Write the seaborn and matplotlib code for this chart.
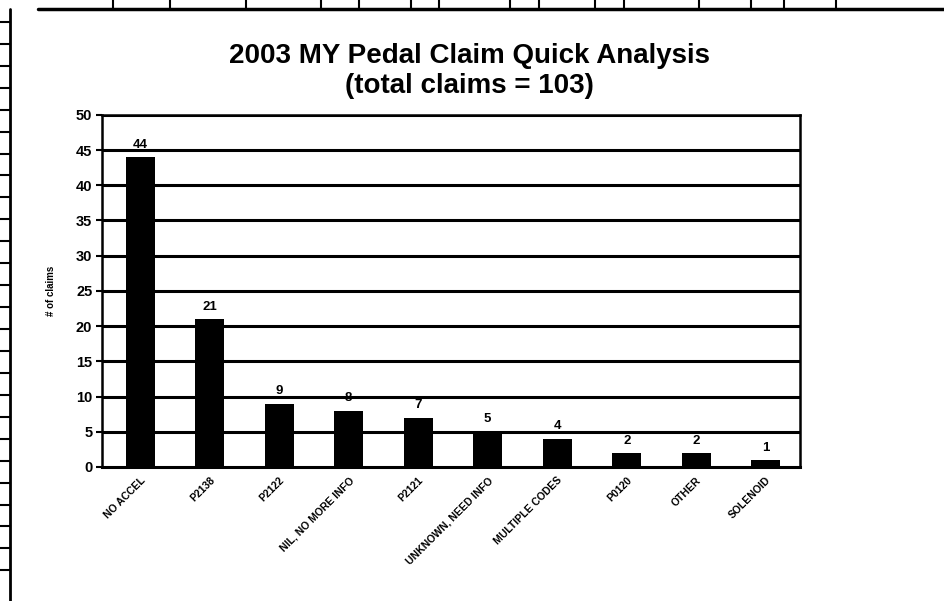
import matplotlib
matplotlib.use('Agg')
import matplotlib.pyplot as plt
import seaborn as sns
import pandas as pd
from matplotlib.lines import Line2D

categories = ['NO ACCEL', 'P2138', 'P2122', 'NIL, NO MORE INFO', 'P2121',
              'UNKNOWN, NEED INFO', 'MULTIPLE CODES', 'P0120', 'OTHER', 'SOLENOID']
claims = [44, 21, 9, 8, 7, 5, 4, 2, 2, 1]
y_ticks = [0, 5, 10, 15, 20, 25, 30, 35, 40, 45, 50]

df = pd.DataFrame({'category': categories, 'claims': claims})

sns.set_style('white')
plt.rcParams['font.family'] = ['Liberation Sans', 'DejaVu Sans']
plt.rcParams['text.color'] = 'black'
plt.rcParams['axes.labelcolor'] = 'black'
plt.rcParams['xtick.color'] = 'black'
plt.rcParams['ytick.color'] = 'black'

fig = plt.figure(figsize=(9.45, 6.01), dpi=100)
ax = fig.add_axes([0.108, 0.223, 0.739, 0.586])

# heavy gridlines like the scanned excel chart
for y in y_ticks[1:]:
    ax.axhline(y, color='black', lw=2.2, zorder=0)

sns.barplot(data=df, x='category', y='claims', color='black', width=0.42,
            saturation=1, edgecolor='black', linewidth=0, ax=ax, zorder=2)

for i, v in enumerate(claims):
    ax.text(i, v + 0.9, str(v), ha='center', va='bottom',
            fontsize=9.5, fontweight='bold')

ax.set_xlim(-0.55, 9.5)
ax.set_ylim(0, 50)
ax.set_yticks(y_ticks)
ax.set_yticklabels([str(t) for t in y_ticks], fontsize=10.5, fontweight='bold')
ax.set_xticks(range(len(categories)))
ax.set_xticklabels(categories, rotation=45, ha='right', rotation_mode='anchor',
                   fontsize=7.5, fontweight='bold')
ax.tick_params(axis='y', length=4, width=1.5, direction='out', left=True, pad=3)
ax.tick_params(axis='x', length=0, pad=6)
ax.set_xlabel('')
ax.set_ylabel('# of claims', fontsize=7, fontweight='bold', labelpad=14)

for s in ax.spines.values():
    s.set_color('black')
    s.set_linewidth(1.8)
ax.spines['bottom'].set_linewidth(2.2)

fig.text(0.497, 0.895, '2003 MY Pedal Claim Quick Analysis', ha='center',
         fontsize=20, fontweight='bold')
fig.text(0.497, 0.845, '(total claims = 103)', ha='center',
         fontsize=20, fontweight='bold')

# page frame from the scanned spreadsheet
fig.add_artist(Line2D([0.011, 0.011], [0, 0.985], color='black', lw=2,
                      transform=fig.transFigure))
fig.add_artist(Line2D([0.04, 1.0], [0.985, 0.985], color='black', lw=2.5,
                      transform=fig.transFigure))
for k in range(1, 27):
    yy = 1 - k * 0.0365
    fig.add_artist(Line2D([0.0, 0.011], [yy, yy], color='black', lw=1.5,
                          transform=fig.transFigure))
for xx in [0.12, 0.18, 0.26, 0.34, 0.38, 0.435, 0.465, 0.54, 0.57, 0.63,
           0.66, 0.74, 0.795, 0.83, 0.885]:
    fig.add_artist(Line2D([xx, xx], [0.985, 1.0], color='black', lw=1.5,
                          transform=fig.transFigure))

fig.savefig('out.png', dpi=100, facecolor='white')
